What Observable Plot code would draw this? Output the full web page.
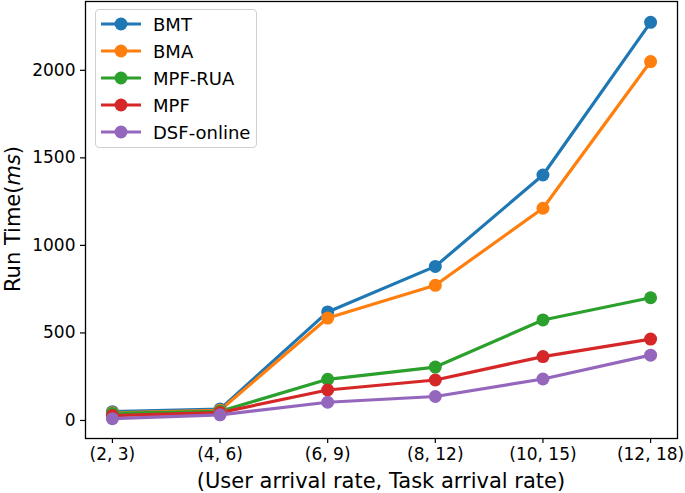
<!DOCTYPE html>
<html><head><meta charset="utf-8">
<script src="https://cdn.jsdelivr.net/npm/d3@7"></script>
<script src="https://cdn.jsdelivr.net/npm/@observablehq/plot@0.6"></script>
<style>
html,body{margin:0;padding:0;background:#fff;}
#wrap{position:relative;width:685px;height:493px;font-family:"DejaVu Sans",sans-serif;}
#legend{position:absolute;left:95px;top:9px;width:162px;height:139px;border:1px solid #d0d0d0;border-radius:4px;background:rgba(255,255,255,0.8);box-sizing:border-box;}
.li{position:absolute;left:0;height:20px;display:flex;align-items:center;font-size:18px;color:#000;}
</style></head>
<body><div id="wrap"></div>
<script>
const categories = ["(2, 3)", "(4, 6)", "(6, 9)", "(8, 12)", "(10, 15)", "(12, 18)"];
const seriesNames = ["BMT", "BMA", "MPF-RUA", "MPF", "DSF-online"];
const colors = ["#1f77b4", "#ff7f0e", "#2ca02c", "#d62728", "#9467bd"];
const BMT = [50, 65, 620, 880, 1402, 2274];
const BMA = [44, 58, 585, 772, 1212, 2050];
const MPF_RUA = [40, 52, 235, 305, 574, 701];
const MPF = [28, 45, 174, 231, 365, 465];
const DSF_online = [10, 32, 104, 137, 237, 373];
const yTicks = [0, 500, 1000, 1500, 2000];

const allSeries = [BMT, BMA, MPF_RUA, MPF, DSF_online];
const data = [];
allSeries.forEach((vals, s) => vals.forEach((v, i) => data.push({series: seriesNames[s], i, v})));

const chart = Plot.plot({
  width: 685, height: 493,
  marginLeft: 85, marginRight: 8, marginTop: 1, marginBottom: 55,
  style: {fontFamily: "DejaVu Sans", fontSize: "17px", color: "#000", background: "#fff"},
  x: {domain: [-0.25, 5.25], label: null},
  y: {domain: [-103, 2393], label: null},
  color: {domain: seriesNames, range: colors},
  marks: [
    Plot.line(data, {x: "i", y: "v", z: "series", stroke: "series", strokeWidth: 3.2}),
    Plot.dot(data, {x: "i", y: "v", fill: "series", r: 6.5}),
    Plot.frame({stroke: "#000", strokeWidth: 1.3}),
    Plot.axisX({ticks: d3.range(categories.length), tickFormat: i => categories[i], tickSize: 5, tickPadding: 4, label: null}),
    Plot.axisY({ticks: yTicks, tickFormat: d3.format("d"), tickSize: 5, tickPadding: 5, label: null})
  ]
});
const wrap = document.getElementById("wrap");
wrap.appendChild(chart);

const svg = d3.select(chart);
svg.selectAll("g[aria-label$='tick label']").attr("font-size", 17).style("font-size", "17px");
svg.selectAll("g[aria-label$='tick'] path, g[aria-label$='tick']").attr("stroke-width", 1.2);

svg.append("text").attr("x", 381).attr("y", 488).attr("text-anchor", "middle")
  .attr("font-size", 21).attr("font-family", "DejaVu Sans").attr("fill", "#000")
  .text("(User arrival rate, Task arrival rate)");
const yl = svg.append("text").attr("transform", "translate(20,219) rotate(-90)").attr("text-anchor", "middle")
  .attr("font-size", 21).attr("font-family", "DejaVu Sans").attr("fill", "#000");
yl.append("tspan").text("Run Time(");
yl.append("tspan").attr("font-style", "italic").text("ms");
yl.append("tspan").text(")");

const legend = document.createElement("div");
legend.id = "legend";
seriesNames.forEach((name, k) => {
  const item = document.createElement("div");
  item.className = "li";
  item.style.top = (4 + k * 27) + "px";
  item.innerHTML = `<svg width="52" height="20" style="margin-left:4px"><line x1="1" y1="10" x2="41" y2="10" stroke="${colors[k]}" stroke-width="3.2"/><circle cx="21" cy="10" r="6.5" fill="${colors[k]}"/></svg><span style="margin-left:1px">${name}</span>`;
  legend.appendChild(item);
});
wrap.appendChild(legend);
</script></body></html>
